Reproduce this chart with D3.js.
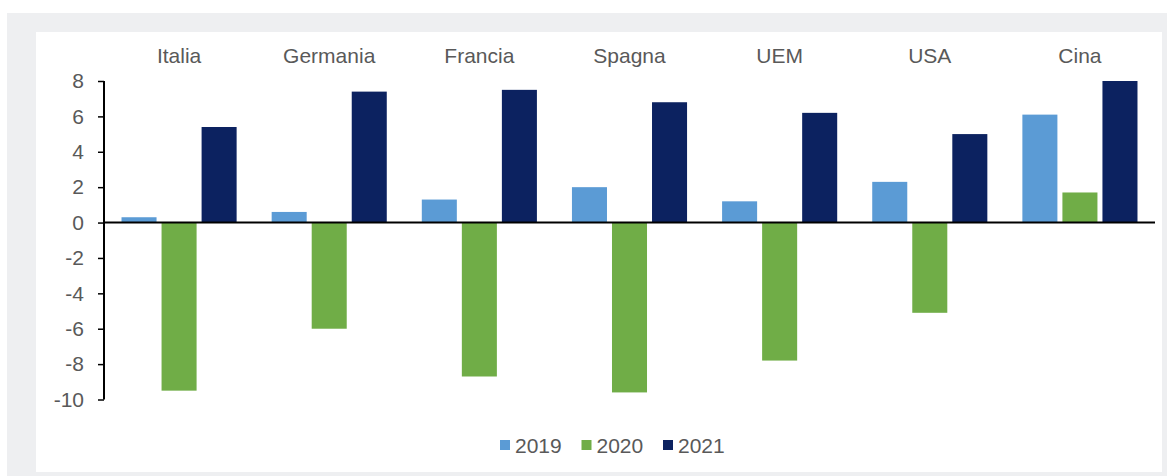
<!DOCTYPE html>
<html>
<head>
<meta charset="utf-8">
<script src="https://cdn.jsdelivr.net/npm/d3@7"></script>
<style>
  html, body { margin: 0; padding: 0; background: #ffffff; }
  svg { display: block; font-family: "Liberation Sans", Arial, sans-serif; }
</style>
</head>
<body>
<svg id="chart" width="1167" height="476"></svg>
<script>
// GDP growth by country, % change
const categories = ["Italia", "Germania", "Francia", "Spagna", "UEM", "USA", "Cina"];
const seriesNames = ["2019", "2020", "2021"];
const values2019 = [0.3, 0.6, 1.3, 2.0, 1.2, 2.3, 6.1];
const values2020 = [-9.5, -6.0, -8.7, -9.6, -7.8, -5.1, 1.7];
const values2021 = [5.4, 7.4, 7.5, 6.8, 6.2, 5.0, 8.0];
const yTicks = [8, 6, 4, 2, 0, -2, -4, -6, -8, -10];
const colors = ["#5b9bd5", "#70ad47", "#0c2260"];

const series = [values2019, values2020, values2021];
const svg = d3.select("#chart");
const textColor = "#595959";

// frame: grey surround with a white panel
svg.append("rect").attr("x", 7).attr("y", 13).attr("width", 1160).attr("height", 463).attr("fill", "#eeeff1");
svg.append("rect").attr("x", 36).attr("y", 32).attr("width", 1126).attr("height", 440).attr("fill", "#ffffff");

const x0 = d3.scaleBand().domain(categories).range([104, 1155]).padding(0);
const x1 = d3.scaleBand().domain(seriesNames).range([0, x0.bandwidth()])
  .paddingInner(0.125).paddingOuter(0.4375);
const y = d3.scaleLinear().domain([-10, 8]).range([399.5, 81]);

// bars
const groups = svg.append("g").selectAll("g")
  .data(categories)
  .join("g")
  .attr("transform", d => `translate(${x0(d)},0)`);

groups.selectAll("rect")
  .data((c, i) => seriesNames.map((s, k) => ({ s, k, v: series[k][i] })))
  .join("rect")
  .attr("x", d => x1(d.s))
  .attr("width", x1.bandwidth())
  .attr("y", d => y(Math.max(0, d.v)))
  .attr("height", d => Math.abs(y(d.v) - y(0)))
  .attr("fill", d => colors[d.k]);

// y axis (plain hyphen for negatives)
const yAxis = d3.axisLeft(y).tickValues(yTicks).tickSize(6).tickPadding(14).tickFormat(d => String(d));
const gy = svg.append("g").attr("transform", "translate(104,0)").call(yAxis);
gy.select(".domain").attr("stroke", "#000").attr("stroke-width", 2).attr("d", `M0,${y(8)}V${y(-10)}`);
gy.selectAll(".tick line").attr("stroke", "#000").attr("stroke-width", 1.5);
gy.selectAll(".tick text")
  .attr("fill", textColor)
  .style("font-size", "21px")
  .style("font-family", "'Liberation Sans', Arial, sans-serif");

// zero line
svg.append("line")
  .attr("x1", 104).attr("x2", 1155)
  .attr("y1", y(0)).attr("y2", y(0))
  .attr("stroke", "#000").attr("stroke-width", 2);

// category labels along the top
svg.append("g").selectAll("text")
  .data(categories)
  .join("text")
  .attr("x", d => x0(d) + x0.bandwidth() / 2)
  .attr("y", 63)
  .attr("text-anchor", "middle")
  .attr("fill", textColor)
  .style("font-size", "21px")
  .text(d => d);

// legend
const legend = svg.append("g").selectAll("g")
  .data(seriesNames)
  .join("g")
  .attr("transform", (d, i) => `translate(${500 + i * 81.5},440)`);
legend.append("rect").attr("width", 10).attr("height", 10).attr("fill", (d, i) => colors[i]);
legend.append("text")
  .attr("x", 15).attr("y", 12.5)
  .attr("fill", textColor)
  .style("font-size", "21px")
  .text(d => d);
</script>
</body>
</html>
